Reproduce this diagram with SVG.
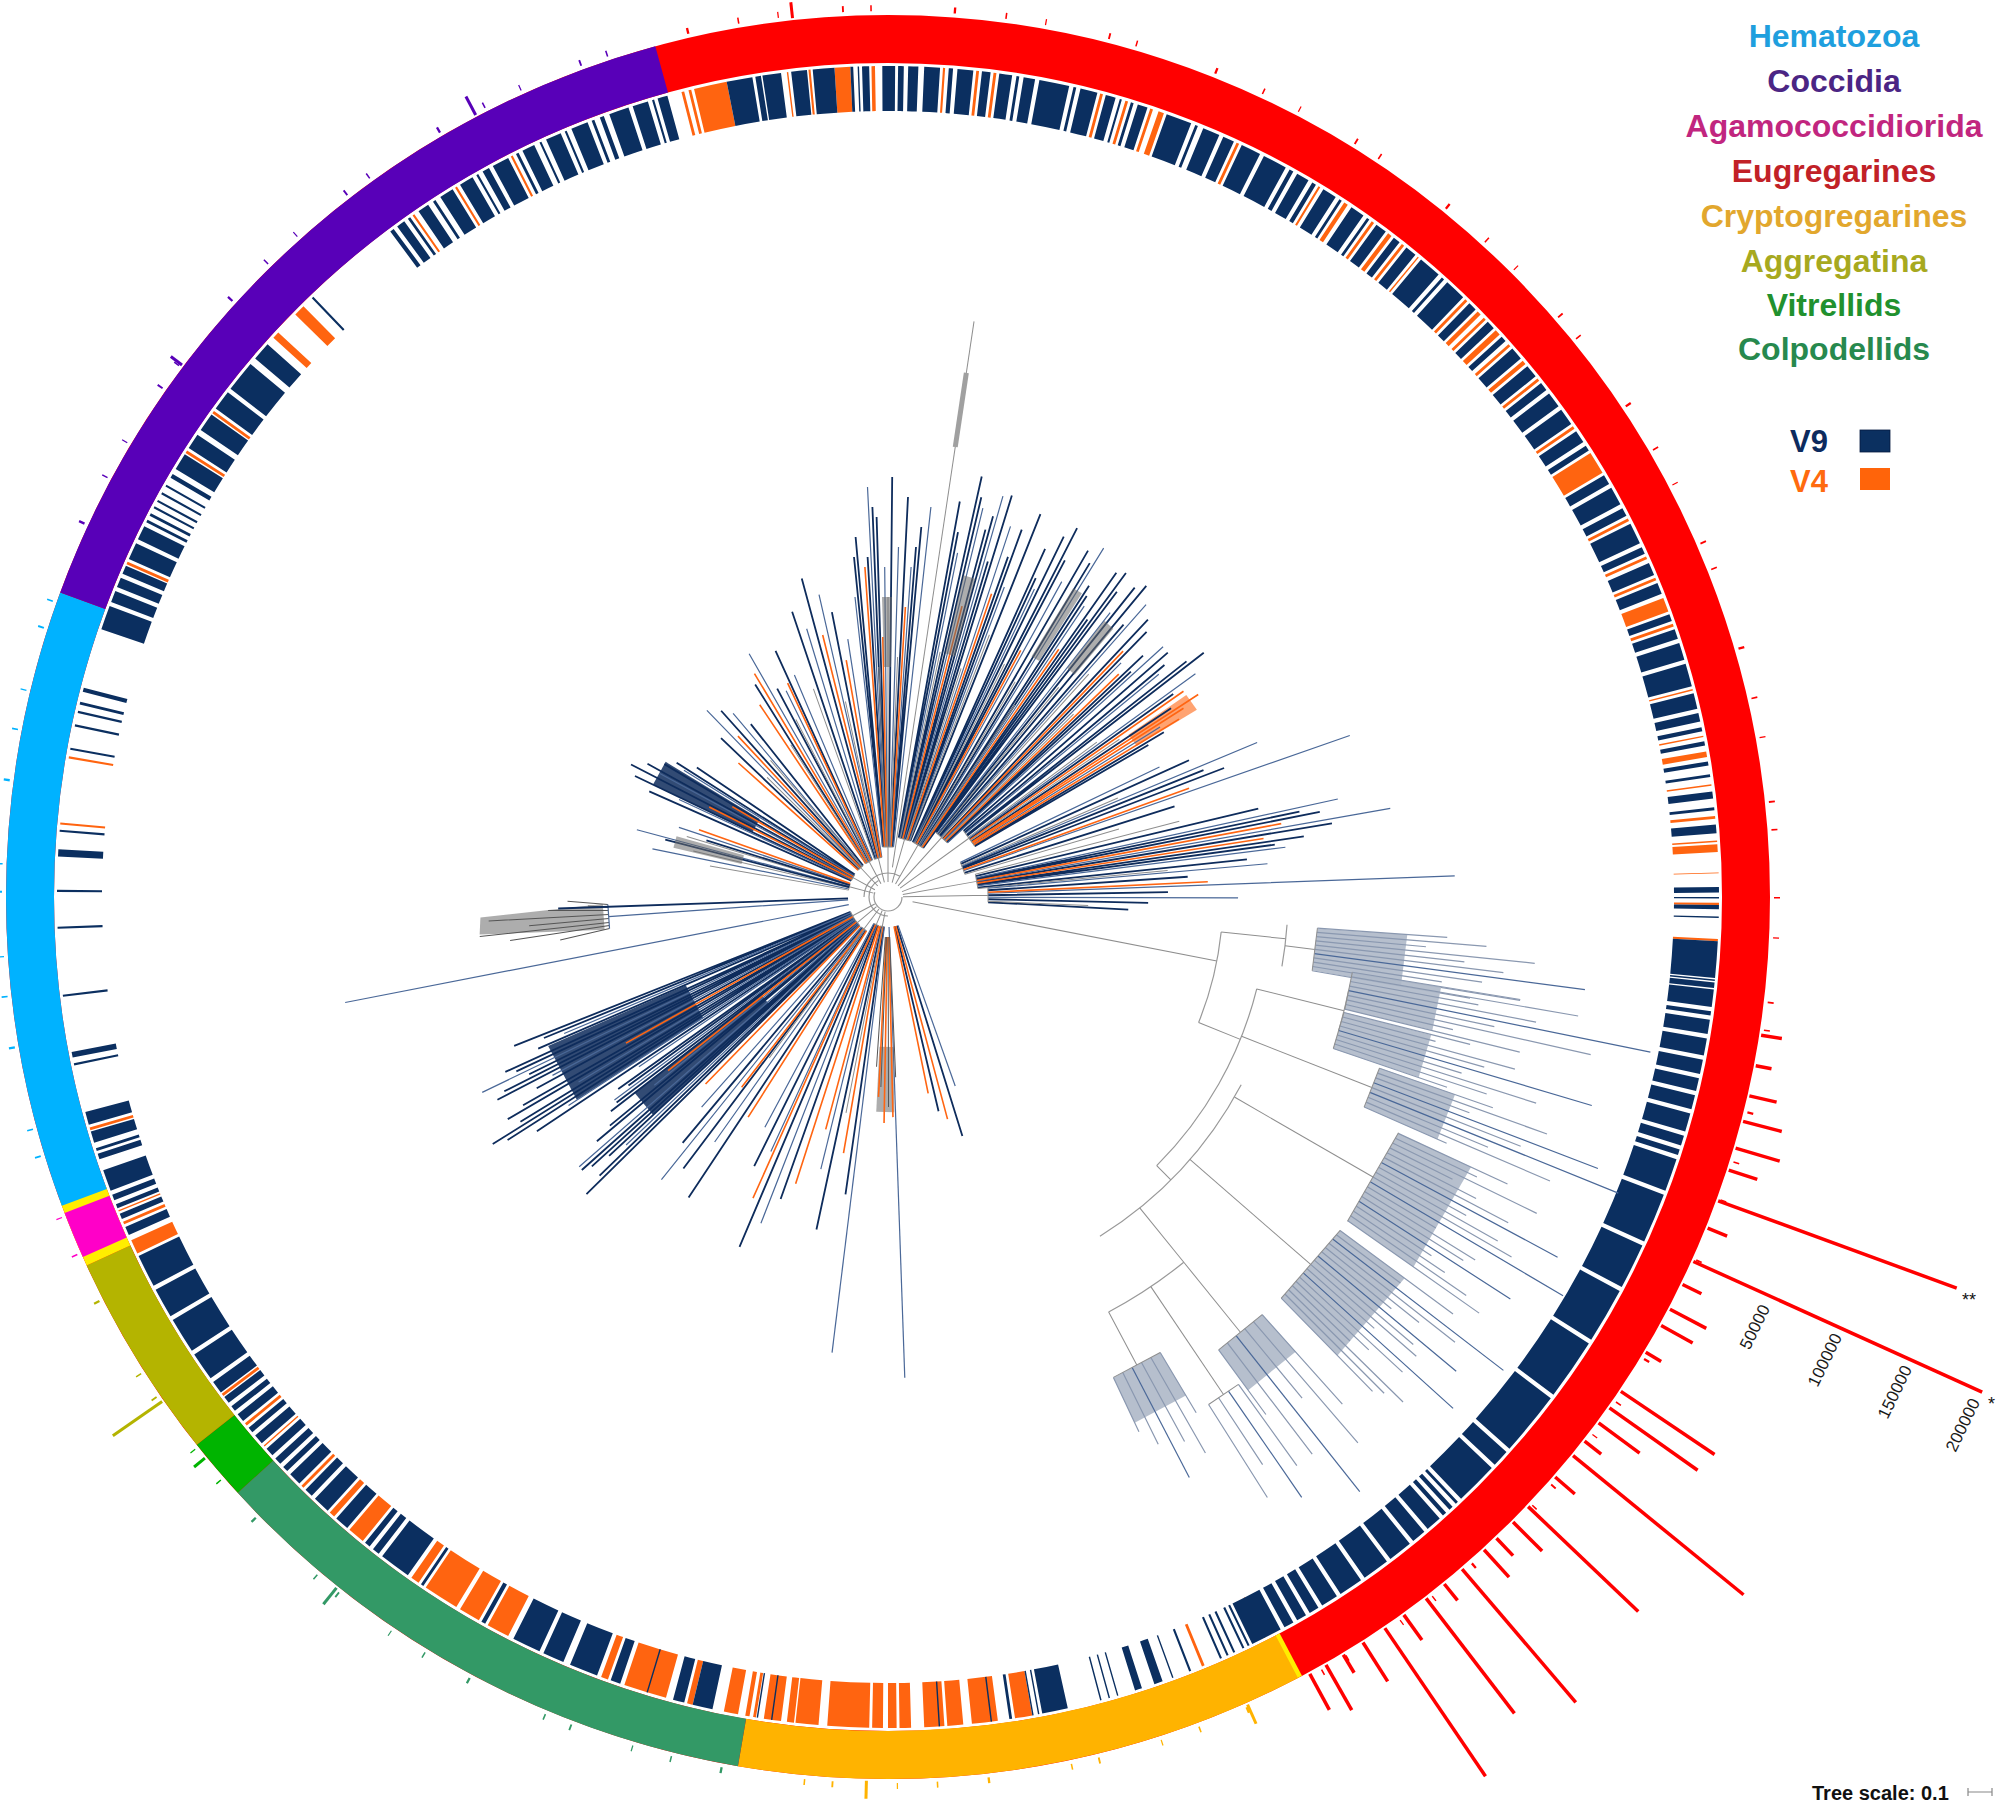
<svg xmlns="http://www.w3.org/2000/svg" width="2000" height="1808" viewBox="0 0 2000 1808">
<style>
text{font-family:"Liberation Sans",Arial,Helvetica,sans-serif}
.lg{font-size:32px;font-weight:bold;text-anchor:middle}
.ax{font-size:17px;fill:#1a1a1a;text-anchor:middle;dominant-baseline:central}
path{fill:none}
.n{stroke:#0e2c5c;stroke-width:1.8}
.s{stroke:#4a6898;stroke-width:1.2}
.o{stroke:#ff6512;stroke-width:1.6}
.g{stroke:#8e8e8e;stroke-width:1}
.d{stroke:#555;stroke-width:1}
.f{stroke:#8a98b0;stroke-width:1.2}
.w{fill:#aeb8c8;stroke:none;opacity:.9}
.wn{fill:#0e2c5c;stroke:none;opacity:.85}
.wg{fill:#6a6a6a;stroke:none;opacity:.55}
.wo{fill:#ff6512;stroke:none;opacity:.6}
.c{fill:none;stroke:#999;stroke-width:1.2}
.rb path{stroke:#f00;stroke-width:3.5}
</style>
<defs>
<mask id="tk" maskUnits="userSpaceOnUse" x="-1000" y="-1000" width="2000" height="2000">
<circle r="889" fill="none" stroke="#fff" stroke-width="6" pathLength="360" stroke-dasharray="0.1 2.5 0.08 4.1 0.12 1.7 0.1 5.3 0.15 3.2"/>
</mask>
</defs>
<rect width="2000" height="1808" fill="#fff"/>
<g transform="translate(888 897)">
<g id="ring" fill="none" stroke-width="48">
<circle r="858" stroke="#ff0000"/>
<circle r="858" pathLength="360" stroke="#ffee00" stroke-dasharray="0 62.0 0.4 400"/>
<circle r="858" pathLength="360" stroke="#ffb300" stroke-dasharray="0 62.3 37.5 400"/>
<circle r="858" pathLength="360" stroke="#339966" stroke-dasharray="0 99.8 37.7 400"/>
<circle r="858" pathLength="360" stroke="#00b400" stroke-dasharray="0 137.5 4.1 400"/>
<circle r="858" pathLength="360" stroke="#b4b400" stroke-dasharray="0 141.6 13.7 400"/>
<circle r="858" pathLength="360" stroke="#ffee00" stroke-dasharray="0 155.3 4.5 400"/>
<circle r="858" pathLength="360" stroke="#ff00c8" stroke-dasharray="0 155.9 3.1 400"/>
<circle r="858" pathLength="360" stroke="#00b2ff" stroke-dasharray="0 159.5 40.7 400"/>
<circle r="858" pathLength="360" stroke="#5800b8" stroke-dasharray="0 200.2 54.5 400"/>
</g>
<g id="ticks" mask="url(#tk)"><use href="#ring" transform="scale(1.04)"/></g>
<g id="bars" fill="none" stroke-width="45">
<circle r="808.5" pathLength="360" stroke="#ff6410" stroke-dasharray="0 0.4 0.15 2.35 0.15 59.95 0.1 4.5 0.2 12.2 1.2 1.2 1.8 0.6 1.1 0.2 1.4 0.9 0.8 0.2 0.6 0.35 0.75 0.2 2.9 0.6 1.6 0.1 0.5 0.4 1.2 0.55 0.2 0.25 0.3 0.5 1 2.2 0.4 1.5 3 1.2 0.5 7 1.6 0.7 1.5 0.3 2.5 0.6 0.6 4.2 1.2 1.4 0.4 2.5 0.2 3.7 0.1 1.8 0.2 2.4 0.2 11.3 1 1.2 0.2 0.75 0.1 5.85 0.2 21.1 0.15 4.45 0.15 13.85 0.2 8.5 0.2 3.1 0.2 6.5 0.5 1.7 0.8 9.8 0.15 3.35 0.15 4.25 0.15 12.45 0.2 0.3 0.2 0.2 2.3 4.2 0.1 1.4 0.15 1.65 1.1 1.45 0.25 4.7 0.15 2.15 0.2 1 0.2 7.3 0.2 1.6 0.2 1.6 0.2 0.4 0.4 5.4 0.2 6.2 0.15 1.95 0.3 2 0.2 1.2 0.3 0.9 0.2 1.2 0.1 4.3 0.2 1 0.3 0.3 0.2 1 0.4 0.9 0.2 1.3 0.3 1.3 0.2 3.9 0.2 2 1.6 3.6 0.2 2.7 0.2 1.4 0.2 1.3 1 0.9 0.2 4.5 0.1 3.2 0.1 1 0.4 1.9 0.1 2.1 0.2 1.5 0.1 0.15 0.55 1.4 0.05 10"/>
<circle r="808.5" pathLength="360" stroke="#0b2f60" stroke-dasharray="0.1 0.45 0.3 0.5 0.1 1.6 2.55 0.1 0.1 0.1 0.4 0.1 1.2 0.3 0.3 0.3 1 0.3 1.2 0.3 1 0.3 0.9 0.3 1 0.3 1.3 0.3 0.7 0.3 0.4 0.3 2.3 0.3 3.5 0.3 3.2 0.3 3.9 0.3 4.3 0.3 4.5 0.3 1.2 0.3 3 0.3 0.2 0.3 0.3 0.3 0.3 0.3 1.1 0.3 1 0.3 1.7 0.3 1.9 0.3 1.7 0.3 1.2 0.3 0.7 0.3 0.7 0.3 0.7 0.3 2.2 0.2 0.15 0.25 0.15 0.55 0.15 0.35 0.15 0.35 0.15 2.15 0.15 1.15 0.1 0.7 0.6 0.9 0.5 1.2 0.1 0.5 0.1 0.5 0.1 2.3 1.8 0.2 0.1 0.3 0.1 1.4 0.2 1.2 0.1 3.5 0.1 11.5 0.1 0.9 0.1 3.1 1.4 0.6 0.8 1.8 0.1 1.9 0.7 1 2 0.5 1.5 0.3 2 2.2 0.3 4.7 0.2 1.1 2.2 0.3 0.5 0.3 0.4 1.6 1 0.8 1.2 0.3 0.6 0.6 0.9 0.3 0.4 0.3 0.5 0.3 0.6 0.5 0.7 0.3 0.4 0.6 0.6 0.3 0.4 0.3 0.5 0.4 0.9 0.3 2 0.3 2.5 0.3 2.1 0.3 2.3 1.6 0.6 0.6 0.4 0.4 0.3 0.3 0.4 0.3 1.5 0.8 0.4 0.2 0.2 0.4 0.8 0.5 0.9 3.3 0.15 0.4 0.4 3.85 0.15 4.55 0.15 2.4 0.15 2.3 0.5 1.2 0.15 5.55 0.15 1.5 0.15 0.8 0.15 0.45 0.2 0.7 0.3 4.2 1.7 0.3 0.8 0.3 0.7 0.3 0.6 0.5 1.2 0.3 1 0.3 0.2 0.3 0.2 0.4 0.15 0.35 0.15 0.45 0.15 0.45 0.15 0.55 0.3 0.4 1.2 0.5 1.1 0.4 1.3 0.5 1.4 0.3 2.2 0.5 1.3 4.4 0.15 6.95 0.3 0.3 0.6 0.3 0.2 0.7 0.8 0.4 0.2 0.4 1 0.6 1 0.3 0.15 0.35 0.5 0.3 1.2 0.6 0.2 0.3 0.9 0.4 0.15 0.35 1.1 0.3 0.15 0.35 1.2 0.3 0.2 0.4 0.3 0.4 1.4 0.3 1.1 0.3 0.15 0.25 0.7 4.2 1.8 0.2 0.4 0.1 1.3 0.7 1.1 0.4 1.5 1.1 0.2 0.3 0.1 0.2 0.5 0.9 0.9 0.2 0.4 0.3 0.7 0.4 1.1 0.6 0.3 0.3 1.1 0.6 0.6 0.6 0.9 0.3 0.2 0.3 0.8 0.3 2.1 0.3 0.2 0.3 1.2 0.6 0.7 0.3 0.15 0.65 0.2 0.3 0.7 1.4 1.8 0.3 0.2 0.4 1.2 0.3 0.8 0.6 1.4 0.3 1.7 0.3 0.3 0.3 0.9 0.3 0.3 0.6 1 0.3 0.2 0.8 1 0.3 0.2 0.6 0.8 0.7 0.5 0.6 0.8 0.5 1.6 0.3 0.2 0.3 1.5 0.6 0.6 1.2 0.6 0.8 0.4 0.7 0.9 0.7 0.9 0.6 0.6 0.3 1.1 0.3 1.2 0.6 0.9 0.3 0.4 2 0.7 0.3 1.3 0.3 0.6 0.6 1.5 0.3 0.5 0.7 0.9 0.6 0.8 1.5 0.5 0.6 0.7 0.3 1.2 0.3 1.6 0.5 1.1 0.3 0.6 0.4 0.3 0.7 0.3 1.1 0.3 0.6 0.2 1 0.5 0.6 0.2 1 0.6 3.7 0.4 10"/>
</g>
<g id="abundance" class="rb">
<path transform="rotate(9)" d="M884 0H905"/><path transform="rotate(11)" d="M884 0H900"/><path transform="rotate(13)" d="M884 0H912"/><path transform="rotate(14.7)" d="M884 0H924"/><path transform="rotate(16.5)" d="M884 0H930"/><path transform="rotate(18)" d="M884 0H914"/><path transform="rotate(20.1)" d="M884 0H1138"/><path transform="rotate(22)" d="M884 0H905"/><path transform="rotate(24.35)" d="M884 0H1201"/><path transform="rotate(26)" d="M884 0H905"/><path transform="rotate(27.8)" d="M884 0H925"/><path transform="rotate(29)" d="M884 0H920"/><path transform="rotate(31)" d="M884 0H902"/><path transform="rotate(34)" d="M884 0H997"/><path transform="rotate(35.3)" d="M884 0H992"/><path transform="rotate(36.5)" d="M884 0H935"/><path transform="rotate(38)" d="M884 0H905"/><path transform="rotate(39.2)" d="M884 0H1104"/><path transform="rotate(41)" d="M884 0H910"/><path transform="rotate(43.6)" d="M884 0H1036"/><path transform="rotate(45)" d="M884 0H925"/><path transform="rotate(46.5)" d="M884 0H908"/><path transform="rotate(47.6)" d="M884 0H921"/><path transform="rotate(49.5)" d="M884 0H1059"/><path transform="rotate(51)" d="M884 0H905"/><path transform="rotate(52.5)" d="M884 0H1029"/><path transform="rotate(54.3)" d="M884 0H915"/><path transform="rotate(55.8)" d="M884 0H1063"/><path transform="rotate(57.5)" d="M884 0H930"/><path transform="rotate(59)" d="M884 0H905"/><path transform="rotate(60.3)" d="M884 0H936"/><path transform="rotate(61.5)" d="M884 0H925"/>
</g>
<g id="bigticks" stroke-width="3">
<path transform="rotate(263.8)" d="M884 0H900" stroke="#f00"/>
<path transform="rotate(242.2)" d="M884 0H905" stroke="#5800b8"/>
<path transform="rotate(217)" d="M884 0H898" stroke="#5800b8"/>
<path transform="rotate(145.2)" d="M884 0H944" stroke="#b4b400"/>
<path transform="rotate(140.6)" d="M884 0H898" stroke="#00b400"/>
<path transform="rotate(128.6)" d="M884 0H905" stroke="#339966"/>
<path transform="rotate(91.4)" d="M884 0H902" stroke="#ffb300"/>
<path transform="rotate(66)" d="M884 0H905" stroke="#ffb300"/>
</g>
<g id="tree">
<circle class="c" r="14" pathLength="360" stroke-dasharray="200 160"/>
<circle class="c" r="19" pathLength="360" stroke-dasharray="0 90 150 400"/>
<circle class="c" r="24" pathLength="360" stroke-dasharray="0 180 120 400"/>
<g transform="rotate(-90)"><path class="n" d="M50 -4.5L360 -32.4M50 -3L340 -20.4M50 -1.5L380 -11.4M50 .5L420 4.2M50 2.5L400 20M50 4.5L370 33.3M50 -5L340 -34M50 -2L390 -15.6M50 4L350 28"/><path class="s" d="M50 -5.5L300 -33M50 -2.5L410 -20.5M50 -.5L330 -3.3M50 1.5L350 10.5M50 3.5L330 23.1M50 5.5L390 42.9"/><path class="o" d="M50 -3.5L330 -23.1M50 -1L260 -5.2M50 3L290 17.4"/><path class="g" d="M50 0L300 0M50 2L240 9.6M50 -2L230 -9.2M15 0L50 0M50 -5.5L50 5.5"/><path class="wg" d="M230 -4L300 -6L300 4L230 3Z"/></g>
<g transform="rotate(-81.5)"><path class="g" d="M30 0L582 0"/><path d="M455 0L530 0" stroke="#a0a0a0" stroke-width="5"/></g>
<g transform="rotate(-74)"><path class="n" d="M60 -6L400 -40M60 -3.6L430 -25.8M60 -1.2L380 -7.6M60 1.2L420 8.4M60 3.6L360 21.6M60 6L410 41M60 -5.4L370 -33.3M60 -3L410 -20.5M60 -.6L395 -4M60 .6L350 3.5M60 4.2L390 27.3"/><path class="s" d="M60 -4.8L350 -28M60 -2.4L400 -16M60 0L417 0M60 2.4L390 15.6M60 4.8L330 26.4"/><path class="o" d="M60 -1.8L300 -9M60 3L320 16"/><path class="g" d="M60 -4.2L250 -17.5M60 1.8L240 7.2M60 5.4L280 25.2M15 0L60 0M60 -6L60 6"/><path class="wg" d="M250 -12L330 -16L330 -4L250 -2Z"/></g>
<g transform="rotate(-60)"><path class="n" d="M60 -6L380 -38M60 -3L414 -20.7M60 0L400 0M60 3L370 18.5M60 5.4L395 35.6M60 -5.4L350 -31.5M60 -4.2L400 -28M60 -2.4L380 -15.2M60 1.2L390 7.8M60 3.6L360 21.6M60 6L340 34"/><path class="s" d="M60 -4.8L340 -27.2M60 -1.2L360 -7.2M60 1.8L410 12.3M60 4.2L350 24.5"/><path class="o" d="M60 -1.8L280 -8.4M60 4.8L300 24"/><path class="g" d="M60 -3.6L260 -15.6M60 .6L250 2.5M60 3.6L230 13.8M15 0L60 0M60 -6L60 6"/><path class="wg" d="M280 4L360 6L360 16L280 13Z"/></g>
<g transform="rotate(-48)"><path class="n" d="M80 -8L400 -40M80 -3.2L404 -16.2M80 1.6L380 7.6M80 6.4L350 28M80 -7.2L380 -34.2M80 -4.8L395 -23.7M80 -1.6L360 -7.2M80 3.2L370 14.8M80 7.2L330 29.7"/><path class="s" d="M80 -5.6L360 -25.2M80 -.8L390 -3.9M80 4L330 16.5M80 8L370 37"/><path class="o" d="M80 2.4L340 10.2M80 5.6L320 22.4"/><path class="g" d="M80 -4L270 -13.5M80 0L300 0M80 4.8L260 15.6M15 0L80 0M80 -8L80 8"/><path class="wg" d="M290 -20L350 -24L350 -12L290 -10Z"/></g>
<g transform="rotate(-36)"><path class="wo" d="M290 10L360 12L360 30L290 24Z"/><path class="n" d="M100 -9L370 -33.3M100 -3L399 -12M100 4L340 13.6M100 10L300 30M100 -7L360 -25.2M100 -4L380 -15.2M100 1L350 3.5M100 9L320 28.8"/><path class="s" d="M100 -6L350 -21M100 0L380 0M100 7L320 22.4"/><path class="o" d="M100 2L360 7.2M100 5L370 18.5M100 6L350 21M100 8L340 27.2"/><path class="g" d="M100 -1L260 -2.6M100 3L280 8.4M15 0L100 0M100 -9L100 10"/></g>
<g transform="rotate(-21)"><path class="n" d="M80 -4.8L330 -19.8M80 0L360 0M80 4.8L300 18M80 -1.6L340 -5.4"/><path class="s" d="M80 -6.4L300 -24M80 2.4L489 14.7M80 -2.4L400 -12"/><path class="o" d="M80 1.6L320 6.4"/><path class="g" d="M80 -3.2L250 -10M80 6.4L240 19.2M15 0L80 0M80 -6.4L80 6.4"/></g>
<g transform="rotate(-10)"><path class="n" d="M90 -5.4L380 -22.8M90 -1.8L440 -8.8M90 2.7L420 12.6M90 6.3L360 25.2M90 -2.7L420 -12.6M90 .9L450 4.5M90 3.6L390 15.6"/><path class="s" d="M90 -3.6L460 -18.4M90 0L510 0M90 4.5L400 20"/><path class="o" d="M90 -.9L400 -4M90 1.8L380 7.6"/><path class="g" d="M90 -7.2L300 -24M90 7.2L280 22.4M15 0L90 0M90 -7.2L90 7.2"/></g>
<g transform="rotate(-1)"><path class="n" d="M100 -5L300 -15M100 0L280 0M100 4L260 10.4M100 7L240 16.8"/><path class="s" d="M100 -2L567 -11.3M100 -7L380 -26.6M100 2L350 7"/><path class="o" d="M100 -3L320 -9.6"/><path class="g" d="M100 6L200 12M15 0L100 0M100 -7L100 7"/></g>
<g transform="rotate(-104)"><path class="n" d="M40 -3.2L300 -24M40 -.8L330 -6.6M40 2L290 14.5"/><path class="s" d="M40 -2L280 -14M40 .8L310 6.2M40 3.6L260 23.4"/><path class="o" d="M40 0L270 0M40 2.8L240 16.8"/><path class="g" d="M40 -4L220 -22M40 1.2L200 6M15 0L40 0M40 -4L40 3.6"/></g>
<g transform="rotate(-118)"><path class="n" d="M40 -2.8L250 -17.5M40 0L236 0M40 2.4L270 16.2"/><path class="s" d="M40 -1.2L280 -8.4M40 1.2L230 6.9M40 3.6L240 21.6"/><path class="o" d="M40 -2L260 -13M40 2L236 11.8M40 -4L230 -23"/><path class="g" d="M40 .4L200 2M40 -3.2L180 -14.4M15 0L40 0M40 -4L40 3.6"/></g>
<g transform="rotate(-133)"><path class="n" d="M40 -2.4L230 -13.8M40 .8L250 5M40 3.2L220 17.6"/><path class="s" d="M40 -.8L260 -5.2M40 2L240 12"/><path class="o" d="M40 0L220 0M40 -3.6L200 -18"/><path class="g" d="M40 1.6L180 7.2M40 -1.6L170 -6.8M15 0L40 0M40 -3.6L40 3.2"/></g>
<g transform="rotate(-151)"><path class="wn" d="M150 -9L260 -15.6L260 10.4L150 6Z"/><path class="n" d="M40 -3.6L260 -23.4M40 -2.4L280 -16.8M40 -1.2L289 -8.7M40 0L275 0M40 1.2L260 7.8M40 2.4L250 15M40 3.6L230 20.7"/><path class="s" d="M40 -2.8L230 -16.1M40 -.4L260 -2.6M40 2L240 12"/><path class="o" d="M40 -1.6L200 -8M40 .8L180 3.6"/><path class="g" d="M15 0L40 0M40 -3.6L40 3.6"/></g>
<g transform="rotate(-165)"><path class="s" d="M40 -2.4L240 -14.4M40 0L260 0M40 2.4L220 13.2"/><path class="g" d="M40 -1.2L200 -6M40 1.2L210 6.3M40 -3.6L180 -16.2M15 0L40 0M40 -3.6L40 3.2"/><path class="n" d="M40 -.4L230 -2.3M40 1.6L190 7.6"/><path class="o" d="M40 3.2L200 16"/><path class="wg" d="M150 -6L220 -8L220 4L150 3Z"/></g>
<g transform="rotate(176)"><path class="wg" d="M285 -13L410 -9L408 8L285 13Z"/><path class="d" d="M280 -12L330 -20M280 -9L380 -17M280 -6L410 -11M280 -2L360 -3.6M280 2L400 4M280 6L340 10.2M280 9L300 12M280 12L320 18"/><path class="s" d="M40 0L280 0M280 -12L280 12"/></g>
<g transform="rotate(178)"><path class="n" d="M40 0L330 0"/></g>
<g transform="rotate(169)"><path class="s" d="M40 0L553 0"/></g>
<g transform="rotate(152)"><path class="wn" d="M220 -20L370 -33L370 28L220 17Z"/><path class="n" d="M40 -4L420 -42M40 -2.8L465 -32.6M40 -1.6L440 -17.6M40 -.4L400 -4M40 .8L430 8.6M40 2L410 20.5M40 3.2L380 30.4M40 4.4L400 44M40 -3.2L450 -36M40 -2.4L430 -25.8M40 -1.2L420 -12.6M40 .4L440 4.4M40 1.2L400 12M40 2.4L420 25.2M40 4L370 37"/><path class="s" d="M40 -3.6L380 -34.2M40 -2L360 -18M40 0L380 0M40 1.6L450 18M40 3.6L350 31.5"/><path class="o" d="M40 -.8L300 -6"/><path class="g" d="M15 0L40 0M40 -4L40 4.4"/></g>
<g transform="rotate(140)"><path class="wn" d="M160 -8L320 -16L320 13L160 6Z"/><path class="n" d="M40 -3.2L422 -33.8M40 -1.6L400 -16M40 0L380 0M40 1.6L350 14M40 3.2L330 26.4M40 -2.8L400 -28M40 -2L380 -19M40 -1.2L410 -12.3M40 .4L360 3.6M40 2L340 17M40 2.8L320 22.4"/><path class="s" d="M40 -2.4L360 -21.6M40 -.8L410 -8.2M40 .8L300 6M40 2.4L340 20.4M40 4L300 30"/><path class="o" d="M40 1.2L280 8.4M40 -4L260 -26"/><path class="g" d="M15 0L40 0M40 -4L40 4"/></g>
<g transform="rotate(127)"><path class="n" d="M40 -2.4L360 -21.6M40 0L340 0M40 2L320 16"/><path class="s" d="M40 -1.2L300 -9M40 1.2L362 10.9M40 3.2L280 22.4"/><path class="o" d="M40 -3.2L260 -20.8M40 .4L240 2.4"/><path class="g" d="M40 -.4L200 -2M15 0L40 0M40 -3.2L40 3.2"/></g>
<g transform="rotate(113)"><path class="n" d="M30 -1.8L320 -19.2M30 0L380 0M30 1.8L300 18"/><path class="s" d="M30 -.9L350 -10.5M30 .9L280 8.4M30 2.7L260 23.4"/><path class="o" d="M30 -2.7L300 -27M30 .6L330 6.6"/><path class="g" d="M15 0L30 0M30 -2.7L30 2.7"/></g>
<g transform="rotate(101)"><path class="n" d="M30 -1.5L300 -15M30 .6L340 6.8"/><path class="s" d="M30 1.5L280 14"/><path class="o" d="M30 -.6L260 -5.2M30 2.1L240 16.8"/><path class="g" d="M30 0L220 0M15 0L30 0M30 -1.5L30 2.1"/></g>
<g transform="rotate(97)"><path class="s" d="M30 0L459 0"/></g>
<g transform="rotate(88)"><path class="s" d="M30 0L481 0"/></g>
<g transform="rotate(91)"><path class="wg" d="M150 -8L215 -10L215 8L150 6Z"/><path class="o" d="M40 -1.6L220 -8.8M40 0L226 0M40 1.2L200 6"/><path class="d" d="M40 -.8L210 -4.2M40 .8L190 3.8M40 -2.4L180 -10.8M40 2L170 8.5"/></g>
<g transform="rotate(75)"><path class="n" d="M30 -1.2L250 -10M30 .9L220 6.6"/><path class="o" d="M30 0L230 0M30 1.8L200 12"/><path class="s" d="M30 -2.4L200 -16"/></g>
<g id="graytree">
<path class="g" transform="rotate(11)" d="M25 0L335 0"/>
<circle class="c" r="335" pathLength="360" stroke-dasharray="0 6 16 400"/>
<path class="g" transform="rotate(6)" d="M335 0L400 0"/>
<circle class="c" r="400" pathLength="360" stroke-dasharray="0 4 6 400"/>
<path class="g" transform="rotate(7)" d="M400 0L430 0"/>
<path class="g" transform="rotate(22)" d="M335 0L380 0"/>
<circle class="c" r="380" pathLength="360" stroke-dasharray="0 14 31 400"/>
<path class="g" transform="rotate(14)" d="M380 0L470 0"/>
<circle class="c" r="470" pathLength="360" stroke-dasharray="0 11.5 5 400"/>
<path class="g" transform="rotate(21.5)" d="M380 0L520 0"/>
<path class="g" transform="rotate(45)" d="M380 0L400 0"/>
<circle class="c" r="400" pathLength="360" stroke-dasharray="0 28 30 400"/>
<path class="g" transform="rotate(30)" d="M400 0L560 0"/>
<path class="g" transform="rotate(41)" d="M400 0L560 0"/>
<path class="g" transform="rotate(51)" d="M400 0L470 0"/>
<circle class="c" r="470" pathLength="360" stroke-dasharray="0 51 11 400"/>
<path class="g" transform="rotate(51)" d="M470 0L560 0"/>
<path class="g" transform="rotate(56)" d="M470 0L600 0"/>
<path class="g" transform="rotate(62)" d="M470 0L530 0"/>
<g transform="rotate(7)"><path class="w" d="M430 -21L520 -26L520 26L430 21Z"/><path class="f" d="M430 -21.5L560 -28M430 -17.2L600 -24M430 -12.9L540 -16.2M430 -8.6L650 -13M430 -4.3L580 -5.8M430 0L620 0M430 8.6L600 12M430 12.9L560 16.8M430 17.2L640 25.6M430 21.5L590 29.5"/><path class="s" d="M430 4.3L703 7"/><path class="g" d="M430 -21.5L430 21.5"/></g>
<g transform="rotate(11.5)"><path class="w" d="M470 -19L560 -22L560 22L470 19Z"/><path class="f" d="M470 -18.8L640 -25.6M470 -14.1L700 -21M470 -9.4L600 -12M470 -4.7L660 -6.6M470 4.7L620 6.2M470 9.4L720 14.4M470 14.1L580 17.4M470 18.8L650 26"/><path class="s" d="M470 0L778 0"/><path class="g" d="M470 -18.8L470 18.8"/></g>
<g transform="rotate(16.5)"><path class="w" d="M470 -19L560 -22L560 22L470 19Z"/><path class="f" d="M470 -18.8L600 -24M470 -14.1L566 -17M470 -9.4L650 -13M470 -4.7L620 -6.2M470 4.7L600 6M470 9.4L680 13.6M470 14.1L630 18.9M470 18.8L590 23.6"/><path class="s" d="M470 0L734 0"/><path class="g" d="M470 -18.8L470 18.8"/></g>
<g transform="rotate(21.5)"><path class="w" d="M520 -21L600 -24L600 24L520 21Z"/><path class="f" d="M520 -20.8L640 -25.6M520 -15.6L700 -21M520 -10.4L620 -12.4M520 0L680 0M520 10.4L650 13M520 15.6L720 21.6M520 20.8L610 24.4"/><path class="s" d="M520 -5.2L760 -7.6M520 5.2L788 7.9"/><path class="g" d="M520 -21L520 21"/></g>
<g transform="rotate(30)"><path class="w" d="M560 -50.4L640 -57.6L640 57.6L560 50.4Z"/><path class="f" d="M560 -50.4L680 -61.2M560 -39.2L720 -50.4M560 -28L660 -33M560 -5.6L700 -7M560 16.8L690 20.7M560 39.2L670 46.9M560 50.4L720 64.8M560 -44.8L650 -52M560 -33.6L630 -37.8M560 -22.4L700 -28M560 -11.2L660 -13.2M560 0L720 0M560 11.2L640 12.8M560 22.4L680 27.2M560 33.6L650 39M560 44.8L700 56"/><path class="s" d="M560 -16.8L760 -22.8M560 5.6L784 7.8M560 28L740 37"/><path class="g" d="M560 -51L560 51"/></g>
<g transform="rotate(41)"><path class="w" d="M560 -44.8L640 -51.2L640 51.2L560 44.8Z"/><path class="f" d="M560 -44.8L700 -56M560 -22.4L680 -27.2M560 0L700 0M560 22.4L660 26.4M560 33.6L720 43.2M560 44.8L690 55.2M560 -39.2L640 -44.8M560 -28L720 -36M560 -16.8L650 -19.5M560 -5.6L690 -6.9M560 5.6L650 6.5M560 16.8L700 21M560 28L640 32M560 39.2L700 49"/><path class="s" d="M560 -33.6L775 -46.5M560 -11.2L740 -14.8M560 11.2L762 15.2"/><path class="g" d="M560 -45L560 45"/></g>
<g transform="rotate(51)"><path class="w" d="M560 -28L610 -30.5L610 30.5L560 28Z"/><path class="f" d="M560 -28L680 -34M560 -16.8L720 -21.6M560 -5.6L650 -6.5M560 16.8L700 21M560 28L640 32"/><path class="s" d="M560 5.6L759 7.6"/><path class="g" d="M560 -28L560 28"/></g>
<g transform="rotate(56)"><path class="f" d="M600 -18L700 -21M600 6L680 6.8M600 18L710 21.3"/><path class="s" d="M600 -6L729 -7.3"/><path class="g" d="M600 -18L600 18"/></g>
<g transform="rotate(62)"><path class="w" d="M530 -26.5L580 -29L580 29L530 26.5Z"/><path class="f" d="M530 -26.5L600 -30M530 -15.9L640 -19.2M530 -5.3L620 -6.2M530 15.9L610 18.3M530 26.5L590 29.5"/><path class="s" d="M530 5.3L654 6.5"/><path class="g" d="M530 -26.5L530 26.5"/></g>
</g>
</g>
</g>
<g id="axis">
<text class="ax" transform="translate(1755 1327) rotate(-64)">50000</text>
<text class="ax" transform="translate(1825 1360) rotate(-64)">100000</text>
<text class="ax" transform="translate(1895 1392) rotate(-64)">150000</text>
<text class="ax" transform="translate(1963 1425) rotate(-64)">200000</text>
<text x="1962" y="1306" font-size="18" fill="#111">**</text>
<text x="1988" y="1410" font-size="18" fill="#111">*</text>
</g>
<g id="legend">
<text class="lg" x="1834" y="47" fill="#1f9fde">Hematozoa</text>
<text class="lg" x="1834" y="92" fill="#4b2584">Coccidia</text>
<text class="lg" x="1834" y="137" fill="#c1267f">Agamococcidiorida</text>
<text class="lg" x="1834" y="182" fill="#c12127">Eugregarines</text>
<text class="lg" x="1834" y="227" fill="#e2a72d">Cryptogregarines</text>
<text class="lg" x="1834" y="272" fill="#a7a91f">Aggregatina</text>
<text class="lg" x="1834" y="316" fill="#21912e">Vitrellids</text>
<text class="lg" x="1834" y="360" fill="#27894e">Colpodellids</text>
<text x="1828" y="452" font-size="31" font-weight="bold" text-anchor="end" fill="#0d2b5e">V9</text>
<rect x="1860" y="430" width="30" height="22" fill="#0b3060" stroke="#061a40" stroke-width="0.8"/>
<text x="1828" y="492" font-size="31" font-weight="bold" text-anchor="end" fill="#ff6a0f">V4</text>
<rect x="1860" y="468" width="30" height="22" fill="#ff640a"/>
</g>
<g id="scale">
<text x="1812" y="1800" font-size="20" font-weight="bold" fill="#111">Tree scale: 0.1</text>
<path d="M1968 1792H1992M1968 1788V1796M1992 1788V1796" stroke="#888" stroke-width="1.2"/>
</g>
</svg>
